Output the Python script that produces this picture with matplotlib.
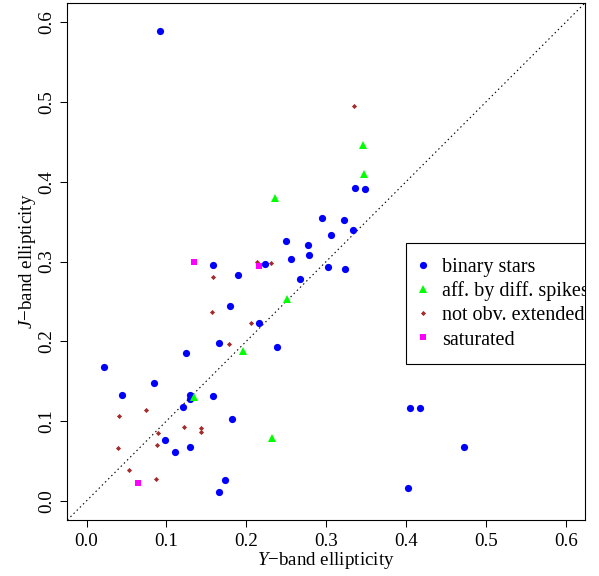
import matplotlib
matplotlib.use('Agg')
import matplotlib.pyplot as plt

plt.rcParams['font.family'] = ['Liberation Serif', 'DejaVu Serif']
plt.rcParams['mathtext.fontset'] = 'custom'
plt.rcParams['mathtext.rm'] = 'Liberation Serif'
plt.rcParams['mathtext.it'] = 'Liberation Serif:italic'

# Y-band / J-band ellipticities per group
binary_y = [0.0915, 0.336, 0.349, 0.295, 0.322, 0.333, 0.306, 0.250, 0.277, 0.256,
            0.279, 0.302, 0.324, 0.267, 0.224, 0.158, 0.190, 0.1796, 0.2155, 0.166,
            0.124, 0.239, 0.0217, 0.0843, 0.044, 0.130, 0.129, 0.158, 0.121, 0.182,
            0.098, 0.1295, 0.1107, 0.173, 0.166, 0.405, 0.417, 0.473, 0.403]
binary_j = [0.589, 0.392, 0.391, 0.354, 0.352, 0.340, 0.333, 0.326, 0.321, 0.303,
            0.308, 0.293, 0.290, 0.278, 0.297, 0.295, 0.2825, 0.2446, 0.2225, 0.198,
            0.185, 0.193, 0.168, 0.148, 0.133, 0.133, 0.128, 0.131, 0.1175, 0.102,
            0.0758, 0.0675, 0.061, 0.0266, 0.0117, 0.116, 0.116, 0.0675, 0.0166]

spikes_y = [0.346, 0.3475, 0.236, 0.2515, 0.196, 0.135, 0.232]
spikes_j = [0.446, 0.410, 0.380, 0.253, 0.188, 0.1296, 0.079]

notext_y = [0.3346, 0.213, 0.2315, 0.158, 0.157, 0.2055, 0.179, 0.074, 0.041,
            0.1224, 0.143, 0.143, 0.090, 0.0877, 0.039, 0.0526, 0.0868]
notext_j = [0.495, 0.300, 0.298, 0.280, 0.237, 0.223, 0.197, 0.114, 0.106,
            0.093, 0.091, 0.086, 0.0846, 0.070, 0.066, 0.039, 0.028]

sat_y = [0.134, 0.2155, 0.064]
sat_j = [0.299, 0.294, 0.0225]

ticks = [0.0, 0.1, 0.2, 0.3, 0.4, 0.5, 0.6]
tick_labels = ['0.0', '0.1', '0.2', '0.3', '0.4', '0.5', '0.6']

fs = 13.7
leg_fs = 14.5

fig = plt.figure(figsize=(5.99, 5.76), dpi=100)
ax = fig.add_axes([0.1124, 0.0972, 0.8642, 0.8976])

ax.axline((0, 0), slope=1, color='black', lw=0.8, dashes=(1.3, 2.7), zorder=1)

ax.plot(binary_y, binary_j, 'o', color='#0000FF', ms=5.2, mew=0, ls='none',
        label='binary stars', zorder=2)
ax.plot(spikes_y, spikes_j, '^', color='#00FF00', ms=5.5, mew=0, ls='none',
        label='aff. by diff. spikes', zorder=3)
ax.plot(notext_y, notext_j, 'D', color='#A52A2A', ms=2.6, mew=0, ls='none',
        label='not obv. extended', zorder=4)
ax.plot(sat_y, sat_j, 's', color='#FF00FF', ms=4.2, mew=0, ls='none',
        label='saturated', zorder=5)

ax.set_xlim(-0.024, 0.624)
ax.set_ylim(-0.024, 0.624)
ax.set_xticks(ticks)
ax.set_xticklabels(tick_labels)
ax.set_yticks(ticks)
ax.set_yticklabels(tick_labels)
ax.tick_params(direction='out', length=5, width=0.75, labelsize=fs, colors='black')
ax.tick_params(axis='x', pad=4)
ax.tick_params(axis='y', pad=3.5)
for lab in ax.get_yticklabels():
    lab.set_rotation(90)
    lab.set_va('center')
    lab.set_ha('right')

for sp in ax.spines.values():
    sp.set_linewidth(0.8)

ax.set_xlabel('$Y$\u2212band ellipticity', fontsize=fs)
ax.set_ylabel('$J$\u2212band ellipticity', fontsize=fs)
ax.xaxis.set_label_coords(0.5, -0.078)
ax.xaxis.label.set_va('center')
ax.yaxis.set_label_coords(-0.076, 0.5)
ax.yaxis.label.set_va('center')

leg = ax.legend(loc='upper left', bbox_to_anchor=(0.655, 0.535), borderaxespad=0,
                fontsize=leg_fs, frameon=True, fancybox=False, framealpha=1,
                edgecolor='black', borderpad=0.7, labelspacing=0.245,
                handlelength=0.23, handletextpad=0.86, markerscale=1.0)
leg.get_frame().set_linewidth(0.8)
leg.get_frame().set_clip_box(ax.bbox)
leg.get_frame().set_clip_on(True)
for t in leg.get_texts():
    t.set_clip_box(ax.bbox)
    t.set_clip_on(True)

fig.savefig('out.png', dpi=100)
